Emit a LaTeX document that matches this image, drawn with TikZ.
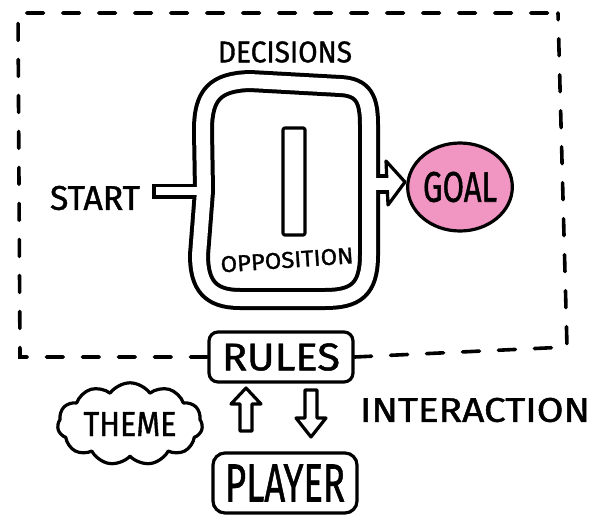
\documentclass[tikz,border=0pt]{standalone}
\usepackage{fontspec}
\setmainfont[FakeBold=1.2]{Fira Sans}
\usetikzlibrary{shapes.geometric,shapes.symbols}
\definecolor{goalpink}{RGB}{241,149,195}
\begin{document}
\begin{tikzpicture}[x=1pt,y=-1pt,
  ink/.style={line width=3.2pt, line join=round},
  lbl/.style={inner sep=0pt},
  boxed/.style={draw, line width=3.2pt, rounded corners=9pt, minimum width=144pt, minimum height=50pt, inner sep=0pt},
  dashframe/.style={line width=3.6pt, dash pattern=on 17pt off 19pt, line cap=round},
  bandblack/.style={line width=22pt, line join=round},
  bandwhite/.style={line width=14pt, white, line join=round},
  blockarrow/.style={ink, fill=white}
]
\fill[white] (0,0) rectangle (607,519);
\useasboundingbox (0,0) rectangle (607,519);

% texts
\node[lbl] (decisions) at (285,52) {\resizebox{134pt}{21pt}{DECISIONS}};
\node[lbl] (start) at (95,198) {\resizebox{90pt}{24pt}{START}};
\node[lbl] (interaction) at (475,410) {\resizebox{230pt}{24pt}{INTERACTION}};

% goal
\node[draw, ink, ellipse, fill=goalpink, minimum width=100pt, minimum height=88pt, inner sep=0pt] (goal) at (460,187) {\resizebox{74pt}{30pt}{GOAL}};

% rules and player
\node[boxed] (rules) at (281,357) {\resizebox{118pt}{27pt}{RULES}};
\node[boxed, minimum height=60pt, rounded corners=12pt] (player) at (285,483) {\resizebox{120pt}{37pt}{PLAYER}};

% theme cloud
\node[cloud, draw, ink, cloud puffs=11, cloud puff arc=110, aspect=2, minimum width=145pt, minimum height=72pt, inner sep=0pt] (theme) at (130,424) {\resizebox{93pt}{24pt}{THEME}};

% dashed frame
\draw[dashframe] (rules.west) -- (20,357) -- (18,13) -- (558,13);
\draw[dashframe] (rules.east) -- (567,347) -- (558,13);

% track
\def\trackpath{(204,191) -- (203,130) .. controls (203,95) and (215,82) .. (250,81) -- (340,86) .. controls (364,87) and (369,100) .. (369,125) -- (369,255) .. controls (369,290) and (355,299) .. (325,299) -- (240,299) .. controls (210,299) and (199,285) .. (199,255) -- cycle}
\coordinate (stubL) at (152,191);
\coordinate (stubLw) at (156,191);
\coordinate (stubR) at (206,191);
\coordinate (shaftL) at (366,184);
\coordinate (shaftR) at (389,184);
\coordinate (tip) at (405,182);

\draw[bandblack] \trackpath;
\draw[line width=15pt] (stubL) -- (stubR);
\draw[line width=20pt] (shaftL) -- (shaftR);
\draw[ink, fill=white] (386,161) -- (tip) -- (388,205) -- cycle;
\draw[bandwhite] \trackpath;
\draw[white, line width=7.5pt] (stubLw) -- (stubR);
\draw[white, line width=12.5pt] (shaftL) -- (390,184);

% bar
\draw[ink, rounded corners=2pt] (283,128) rectangle (305,235);
\node[lbl, rotate=4] (opp) at (287,260) {\resizebox{133pt}{16pt}{OPPOSITION}};

% block arrows
\coordinate (upTip) at (246,388);
\coordinate (downTip) at (311,437);
\draw[blockarrow, shift={(upTip)}] (0,0) -- (15,16) -- (6,16) -- (6,43) -- (-6,43) -- (-6,16) -- (-15,16) -- cycle;
\draw[blockarrow, shift={(downTip)}] (0,0) -- (15,-19) -- (6,-19) -- (6,-47) -- (-6,-47) -- (-6,-19) -- (-15,-19) -- cycle;
\end{tikzpicture}
\end{document}
